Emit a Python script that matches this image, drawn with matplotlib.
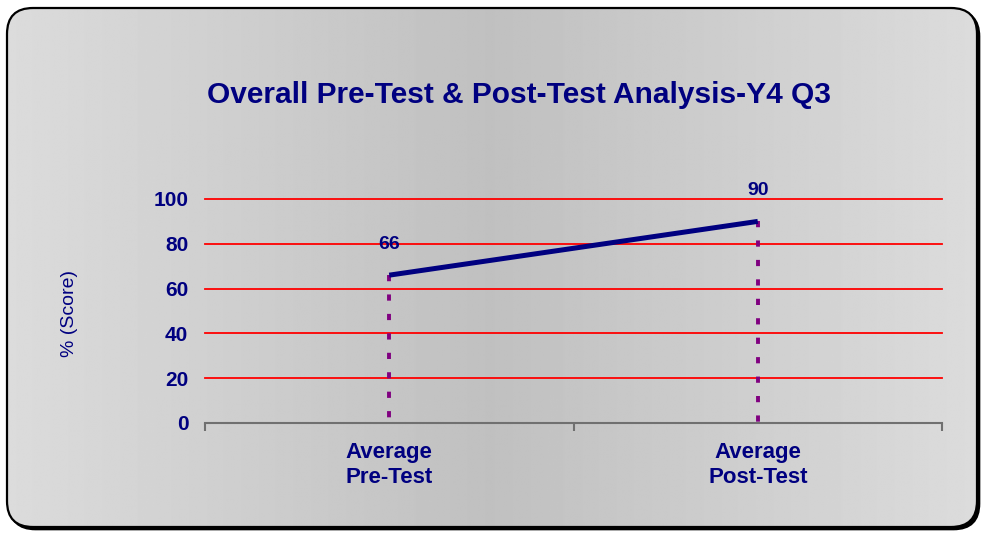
import numpy as np
import matplotlib
matplotlib.use("Agg")
import matplotlib.pyplot as plt
from matplotlib.patches import FancyBboxPatch

plt.rcParams['font.family'] = ['Liberation Sans', 'DejaVu Sans']

# ---- data ----
categories = ["Average\nPre-Test", "Average\nPost-Test"]
scores = [66, 90]
yticks = [0, 20, 40, 60, 80, 100]
title = "Overall Pre-Test & Post-Test Analysis-Y4 Q3"
ylabel = "% (Score)"

NAVY = "#000080"
PURPLE = "#800080"

W, H = 981, 533
fig = plt.figure(figsize=(W / 100, H / 100), dpi=100)
fig.patch.set_facecolor("white")

# ---- background panel (rounded, gradient, shadow) ----
bg = fig.add_axes([0, 0, 1, 1], zorder=-1)
bg.set_xlim(0, W)
bg.set_ylim(H, 0)
bg.axis("off")
x0, y0, x1, y1, r = 7, 8, 977, 527, 26
shadow = FancyBboxPatch((x0 + 2.5, y0 + 2.5), x1 - x0, y1 - y0,
                        boxstyle=f"round,pad=0,rounding_size={r}",
                        fc="black", ec="black", lw=1.2, zorder=-2)
bg.add_patch(shadow)
panel = FancyBboxPatch((x0, y0), x1 - x0, y1 - y0,
                       boxstyle=f"round,pad=0,rounding_size={r}",
                       fc="#d0d0d0", ec="none", zorder=-1)
bg.add_patch(panel)
xs = np.linspace(0, W, 600)
vals = (192 + 28 * np.abs(xs - 490) / 490) / 255.0
grad = np.tile(vals, (2, 1))
im = bg.imshow(grad, cmap="gray", vmin=0, vmax=1, extent=[0, W, H, 0],
               aspect="auto", interpolation="bilinear", zorder=0)
im.set_clip_path(panel)
border = FancyBboxPatch((x0, y0), x1 - x0, y1 - y0,
                        boxstyle=f"round,pad=0,rounding_size={r}",
                        fc="none", ec="black", lw=1.6, zorder=2)
bg.add_patch(border)

# ---- main axes ----
left, right = 205 / W, 942 / W
bottom, top = 1 - 423 / H, 1 - 199 / H
ax = fig.add_axes([left, bottom, right - left, top - bottom])
ax.set_facecolor("none")
ax.set_xlim(0, len(categories))
ax.set_ylim(0, 100)

for yv in yticks[1:]:
    ax.axhline(yv, color="#ff0000", lw=1.3, zorder=1, clip_on=False)

xpos = np.arange(len(categories)) + 0.5
# drop lines
for xv, yv in zip(xpos, scores):
    ax.plot([xv, xv], [yv, 0], color=PURPLE, lw=2.8,
            dashes=(1.6, 3.4), solid_capstyle="butt", dash_capstyle="butt", zorder=2)
ax.plot(xpos, scores, color=NAVY, lw=3.6, solid_capstyle="butt", zorder=3)

for xv, yv in zip(xpos, scores):
    ax.annotate(str(yv), (xv, yv), xytext=(0, 22), textcoords="offset points",
                ha="center", va="center", fontsize=14, fontweight="bold", color=NAVY)

for s in ["top", "right", "left"]:
    ax.spines[s].set_visible(False)
ax.spines["bottom"].set_color("#707070")
ax.spines["bottom"].set_linewidth(1.5)

ax.set_yticks(yticks)
ax.set_yticklabels([str(v) for v in yticks], fontsize=15, fontweight="bold", color=NAVY)
ax.tick_params(axis="y", length=0, pad=12)

ax.set_xticks(np.arange(len(categories) + 1))
ax.set_xticklabels([])
ax.tick_params(axis="x", which="major", direction="out", length=6, width=1.5, color="#707070")
ax.set_xticks(xpos, minor=True)
ax.set_xticklabels(categories, minor=True, fontsize=16, fontweight="bold",
                   color=NAVY, linespacing=1.25)
ax.tick_params(axis="x", which="minor", length=0, pad=14)

ax.set_ylabel(ylabel, fontsize=14, color=NAVY)
ax.yaxis.set_label_coords((78 - 205) / (942 - 205), 0.49)

fig.text(519 / W, 1 - 95 / H, title, ha="center", va="center",
         fontsize=21.5, fontweight="bold", color=NAVY)

fig.savefig("out.png", dpi=100)
